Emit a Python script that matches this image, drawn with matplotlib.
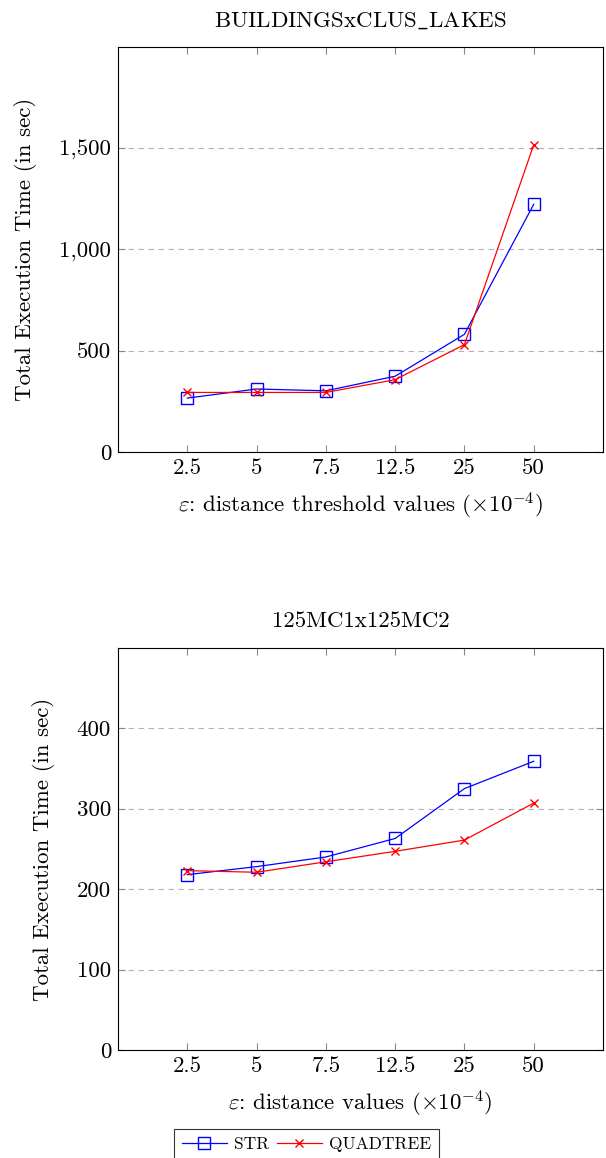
import matplotlib
matplotlib.use("Agg")
import matplotlib.pyplot as plt
from matplotlib.ticker import FuncFormatter

plt.rcParams["font.family"] = "cmr10"
plt.rcParams["mathtext.fontset"] = "cm"
plt.rcParams["axes.formatter.use_mathtext"] = True

x_labels = ["2.5", "5", "7.5", "12.5", "25", "50"]

# BUILDINGSxCLUS_LAKES
str_lakes = [266, 311, 302, 374, 581, 1223]
quad_lakes = [294, 294, 294, 357, 530, 1516]

# 125MC1x125MC2
str_mc = [218, 228, 240, 263, 325, 359]
quad_mc = [223, 221, 234, 247, 261, 307]

panels = [
    (r"BUILDINGSxCLUS$\_$LAKES", str_lakes, quad_lakes,
     r"$\varepsilon$: distance threshold values ($\times10^{-4}$)",
     [0, 500, 1000, 1500], 2000),
    ("125MC1x125MC2", str_mc, quad_mc,
     r"$\varepsilon$: distance values ($\times10^{-4}$)",
     [0, 100, 200, 300, 400], 500),
]

FS = 16.5

fig = plt.figure(figsize=(6.06, 11.58), dpi=100)
rects = [[0.1947, 0.6097, 0.8003, 0.3497], [0.1947, 0.0933, 0.8003, 0.3472]]
xs = list(range(len(x_labels)))

for rect, (title, s_vals, q_vals, xlabel, yticks, ytop) in zip(rects, panels):
    ax = fig.add_axes(rect)
    ax.plot(xs, s_vals, color="blue", lw=0.9, marker="s", ms=9,
            mfc="none", mec="blue", mew=1.0, label="STR", zorder=3)
    ax.plot(xs, q_vals, color="red", lw=0.9, marker="x", ms=6,
            mec="red", mew=1.0, label="QUADTREE", zorder=3)
    ax.set_xlim(-1, 6)
    ax.set_ylim(0, ytop)
    ax.set_xticks(xs)
    ax.set_xticklabels(x_labels)
    ax.set_yticks(yticks)
    ax.yaxis.set_major_formatter(FuncFormatter(lambda v, p: f"{int(v):,}"))
    ax.grid(axis="y", color="#b3b3b3", ls=(0, (5, 4)), lw=0.8)
    ax.set_axisbelow(True)
    ax.tick_params(direction="in", length=5, color="#888888", labelsize=FS,
                   top=True, right=True, pad=5)
    for sp in ax.spines.values():
        sp.set_linewidth(0.8)
    ax.set_title(title, fontsize=FS, pad=15)
    ax.set_xlabel(xlabel, fontsize=FS, labelpad=9)
    ax.set_ylabel("Total Execution Time (in sec)", fontsize=FS, labelpad=16)
    last_ax = ax

leg = last_ax.legend(loc="upper center", bbox_to_anchor=(0.388, -0.175), ncol=2,
                     frameon=True, fancybox=False, edgecolor="black",
                     fontsize=12.5, handlelength=2.6, columnspacing=0.45,
                     handletextpad=0.4, borderpad=0.45)
leg.get_frame().set_linewidth(0.8)

fig.savefig("out.png", dpi=100)
